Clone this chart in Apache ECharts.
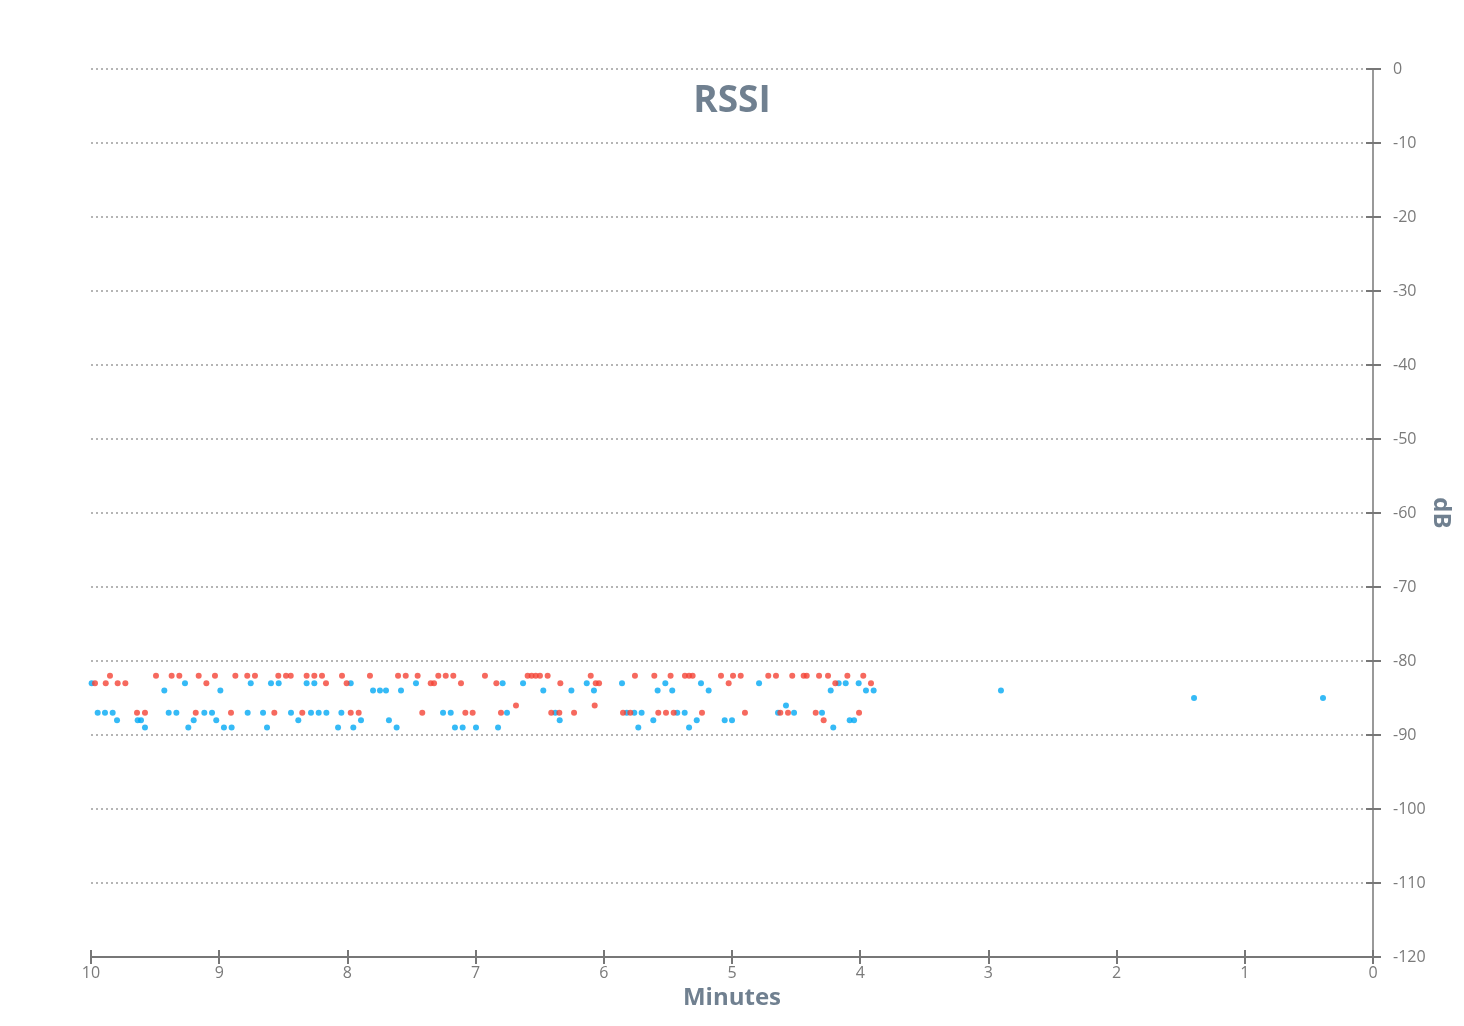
<!DOCTYPE html>
<html>
<head>
<meta charset="utf-8">
<script src="https://cdn.jsdelivr.net/npm/echarts@6/dist/echarts.min.js"></script>
<style>
  html, body { margin: 0; padding: 0; background: #fff; }
  #chart { width: 1464px; height: 1026px; }
</style>
</head>
<body>
<div id="chart"></div>
<script>
// minutes ago for each reading, grouped by dB level
const blueByDb = {
  '-83': [9.995, 9.267, 8.754, 8.596, 8.536, 8.318, 8.258, 7.974, 7.465, 6.789, 6.630, 6.133, 5.858, 5.520, 5.242, 4.789, 4.168, 4.113, 4.012],
  '-84': [9.428, 8.991, 7.800, 7.746, 7.699, 7.582, 6.472, 6.253, 6.077, 5.580, 5.466, 5.182, 4.230, 3.955, 3.895, 2.902],
  '-85': [1.396, 0.390],
  '-86': [4.579],
  '-87': [9.948, 9.891, 9.831, 9.394, 9.334, 9.116, 9.056, 8.778, 8.658, 8.440, 8.284, 8.224, 8.164, 8.047, 7.254, 7.194, 6.755, 6.378, 5.821, 5.762, 5.705, 5.427, 5.369, 4.641, 4.516, 4.298],
  '-88': [9.797, 9.636, 9.610, 9.199, 9.023, 8.383, 7.894, 7.676, 6.344, 5.614, 5.275, 5.057, 5.000, 4.082, 4.048],
  '-89': [9.579, 9.241, 8.963, 8.903, 8.627, 8.073, 7.954, 7.616, 7.161, 7.101, 6.997, 6.825, 5.731, 5.335, 4.210]
};
const redByDb = {
  '-82': [9.852, 9.493, 9.371, 9.311, 9.160, 9.033, 8.874, 8.781, 8.721, 8.539, 8.479, 8.442, 8.318, 8.258, 8.198, 8.042, 7.824, 7.605, 7.545, 7.452, 7.291, 7.233, 7.174, 6.927, 6.594, 6.563, 6.531, 6.498, 6.438, 6.102, 5.757, 5.606, 5.479, 5.367, 5.335, 5.307, 5.086, 4.992, 4.932, 4.717, 4.657, 4.530, 4.441, 4.417, 4.321, 4.251, 4.100, 3.976],
  '-83': [9.969, 9.885, 9.792, 9.732, 9.100, 8.167, 8.006, 7.350, 7.324, 7.114, 6.838, 6.339, 6.063, 6.037, 5.026, 4.194, 3.916],
  '-86': [6.685, 6.071],
  '-87': [9.641, 9.579, 9.183, 8.908, 8.570, 8.352, 7.974, 7.912, 7.416, 7.080, 7.023, 6.802, 6.410, 6.347, 6.232, 5.850, 5.793, 5.575, 5.515, 5.455, 5.234, 4.899, 4.623, 4.563, 4.347, 4.009],
  '-88': [4.285]
};

const toPoints = (byDb) => {
  let pts = [];
  Object.keys(byDb).forEach(db => {
    byDb[db].forEach(m => pts.push([m, Number(db)]));
  });
  return pts;
};

const labelColor = '#7a7a7a';
const nameColor = '#708090';
const font = '"Open Sans", sans-serif';
const tickStyle = { color: '#777', width: 2 };

let chartDom = document.getElementById('chart');
const Chart = echarts.init(chartDom);

// grid 1 is a copy of grid 0, only used for the inner half of the ticks
let gridBox = { left: 91, right: 91, top: 69, bottom: 69, outerBoundsMode: 'none' };

let option = {
  animation: false,
  title: {
    text: 'RSSI',
    left: 'center',
    top: 78,
    textStyle: { fontFamily: font, fontSize: 37, fontWeight: 'bold', color: nameColor }
  },
  grid: [Object.assign({}, gridBox), Object.assign({}, gridBox)],
  xAxis: [
    {
      type: 'value',
      gridIndex: 0,
      min: 0,
      max: 10,
      interval: 1,
      inverse: true,
      position: 'bottom',
      name: 'Minutes',
      nameLocation: 'middle',
      nameGap: 29,
      nameMoveOverlap: false,
      nameTextStyle: { fontFamily: font, fontSize: 24, fontWeight: 'bold', color: nameColor },
      axisLine: { show: true, onZero: false, lineStyle: { color: '#777', width: 2 } },
      axisTick: { show: true, length: 7, lineStyle: tickStyle },
      axisLabel: { fontFamily: font, fontSize: 16, color: labelColor, margin: 8 },
      splitLine: { show: false }
    },
    {
      type: 'value',
      gridIndex: 1,
      min: 0,
      max: 10,
      interval: 1,
      inverse: true,
      position: 'bottom',
      axisLine: { show: false, onZero: false },
      axisTick: { show: true, inside: true, length: 7, lineStyle: tickStyle },
      axisLabel: { show: false },
      splitLine: { show: false }
    }
  ],
  yAxis: [
    {
      type: 'value',
      gridIndex: 0,
      min: -120,
      max: 0,
      interval: 10,
      position: 'right',
      name: 'dB',
      nameLocation: 'middle',
      nameGap: 56,
      nameRotate: -90,
      nameMoveOverlap: false,
      nameTextStyle: { fontFamily: font, fontSize: 24, fontWeight: 'bold', color: nameColor },
      axisLine: { show: true, onZero: false, lineStyle: { color: '#999', width: 2 } },
      axisTick: { show: true, length: 8, lineStyle: tickStyle },
      axisLabel: { fontFamily: font, fontSize: 16, color: labelColor, margin: 20 },
      splitLine: { show: true, lineStyle: { color: '#b5b5b5', width: 2, type: [2, 3] } }
    },
    {
      type: 'value',
      gridIndex: 1,
      min: -120,
      max: 0,
      interval: 10,
      position: 'right',
      axisLine: { show: false, onZero: false },
      axisTick: { show: true, inside: true, length: 7, lineStyle: tickStyle },
      axisLabel: { show: false },
      splitLine: { show: false }
    }
  ],
  series: [
    {
      name: 'blue',
      type: 'scatter',
      data: toPoints(blueByDb),
      symbol: 'circle',
      symbolSize: 6,
      itemStyle: { color: '#03a9f4' }
    },
    {
      name: 'red',
      type: 'scatter',
      data: toPoints(redByDb),
      symbol: 'circle',
      symbolSize: 6,
      itemStyle: { color: '#f44336' }
    }
  ]
};

Chart.setOption(option);
</script>
</body>
</html>
